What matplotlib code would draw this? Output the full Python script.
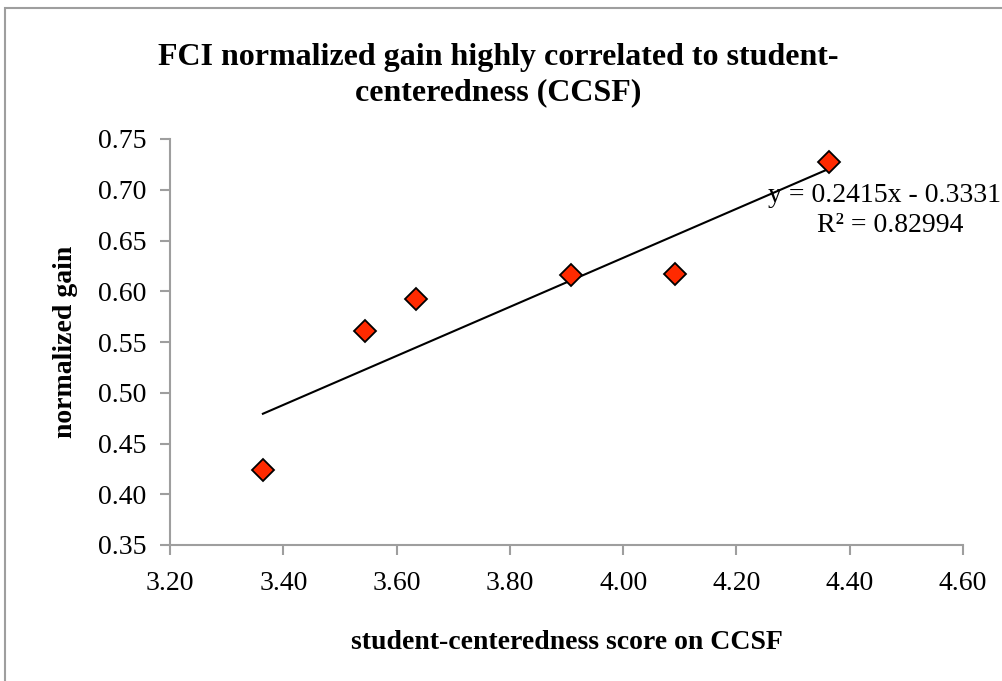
import matplotlib
matplotlib.use("Agg")
import matplotlib.pyplot as plt
from matplotlib.patches import Rectangle

# data
ccsf_score = [3.364, 3.544, 3.634, 3.908, 4.092, 4.364]
norm_gain = [0.424, 0.561, 0.592, 0.616, 0.617, 0.727]
slope, intercept = 0.2415, -0.3331
r2 = 0.82994

xticks = [3.20, 3.40, 3.60, 3.80, 4.00, 4.20, 4.40, 4.60]
yticks = [0.35, 0.40, 0.45, 0.50, 0.55, 0.60, 0.65, 0.70, 0.75]

plt.rcParams["font.family"] = ["Liberation Serif", "DejaVu Serif"]
GRAY = "#9e9e9e"

W, H = 1003, 681
fig = plt.figure(figsize=(W / 100, H / 100), dpi=100)
# outer chart border (cut off at right and bottom like the reference)
fig.patches.append(Rectangle((5 / W, -0.1), 1.2, 1.1 - 8 / H, transform=fig.transFigure,
                             fill=False, edgecolor=GRAY, linewidth=1.5))

ax = fig.add_axes([170 / W, 1 - 545 / H, (963 - 170) / W, (545 - 139) / H])

# trendline over the data range
x0, x1 = min(ccsf_score), max(ccsf_score)
ax.plot([x0, x1], [slope * x0 + intercept, slope * x1 + intercept], color="black", lw=1.5, zorder=2)
ax.plot(ccsf_score, norm_gain, linestyle="none", marker="D", markersize=11,
        markerfacecolor="#FF2A00", markeredgecolor="black", markeredgewidth=1.3, zorder=3)

ax.set_xlim(3.20, 4.60)
ax.set_ylim(0.35, 0.75)
ax.set_xticks(xticks)
ax.set_yticks(yticks)
ax.set_xticklabels([f"{v:.2f}" for v in xticks], fontsize=20)
ax.set_yticklabels([f"{v:.2f}" for v in yticks], fontsize=20)
ax.tick_params(axis="x", direction="out", length=7, width=1.5, color=GRAY, pad=12)
ax.tick_params(axis="y", direction="out", length=7, width=1.5, color=GRAY, pad=10)
for s in ["top", "right"]:
    ax.spines[s].set_visible(False)
for s in ["left", "bottom"]:
    ax.spines[s].set_color(GRAY)
    ax.spines[s].set_linewidth(1.5)

ax.set_xlabel("student-centeredness score on CCSF", fontsize=20, fontweight="bold", labelpad=24)
ax.set_ylabel("normalized gain", fontsize=20, fontweight="bold", labelpad=14)

fig.text(498 / W, 1 - 75 / H, "FCI normalized gain highly correlated to student-\ncenteredness (CCSF)",
         ha="center", va="center", fontsize=23, fontweight="bold", linespacing=1.3)

# trendline label (kept just inside the right edge)
fig.text(885 / W, 1 - 196 / H, f"y = {slope}x - {abs(intercept)}", ha="center", va="center", fontsize=20)
fig.text(890 / W, 1 - 225 / H, f"R² = {r2}", ha="center", va="center", fontsize=20)

fig.savefig("out.png", dpi=100)
